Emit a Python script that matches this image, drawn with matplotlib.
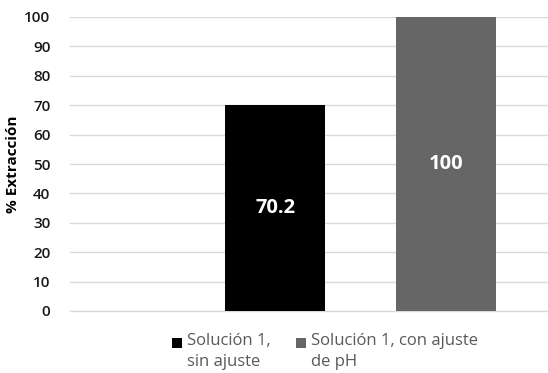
import matplotlib.pyplot as plt
from matplotlib.patches import Rectangle

plt.rcParams['font.family'] = ['Open Sans', 'DejaVu Sans']

# Data
series = ["Solución 1,\nsin ajuste", "Solución 1, con ajuste\nde pH"]
values = [70.2, 100]
colors = ["#000000", "#666666"]
yticks = list(range(0, 101, 10))

fig = plt.figure(figsize=(5.48, 3.73), dpi=100)
ax = fig.add_axes([70 / 548, 62 / 373, 478 / 548, 294 / 373])

positions = [0, 1]
width = 100 / 171
bars = ax.bar(positions, values, width=width, color=colors, zorder=3)

for b, v in zip(bars, values):
    ax.text(b.get_x() + b.get_width() / 2, v / 2, f"{v:g}", ha='center', va='center',
            color='white', fontsize=14.5, fontweight='bold', zorder=4)

ax.set_xlim(-1.199, 1.596)
ax.set_ylim(0, 100)
ax.set_yticks(yticks)
ax.set_xticks([])
ax.grid(axis='y', color='#d9d9d9', linewidth=1, zorder=0)
for side in ['top', 'right', 'left']:
    ax.spines[side].set_visible(False)
ax.spines['bottom'].set_color('#d9d9d9')
ax.spines['bottom'].set_linewidth(1)
ax.tick_params(axis='y', length=0, pad=14, labelsize=11, labelcolor='#1a1a1a')
for t in ax.get_yticklabels():
    t.set_fontweight('semibold')
ax.set_ylabel("% Extracción", fontsize=11, fontweight='bold', labelpad=3)

# Legend below the plot: square marker next to the first line of each label
W, H = 548, 373
legend_x = [172, 296]
for x0, label, c in zip(legend_x, series, colors):
    fig.patches.append(Rectangle((x0 / W, 1 - 348 / H), 10 / W, 10 / H,
                                 transform=fig.transFigure, facecolor=c, edgecolor='none'))
    fig.text((x0 + 15) / W, 1 - 333 / H, label, ha='left', va='top', fontsize=12,
             color='#595959', linespacing=1.45)

fig.savefig("out.png", dpi=100)
